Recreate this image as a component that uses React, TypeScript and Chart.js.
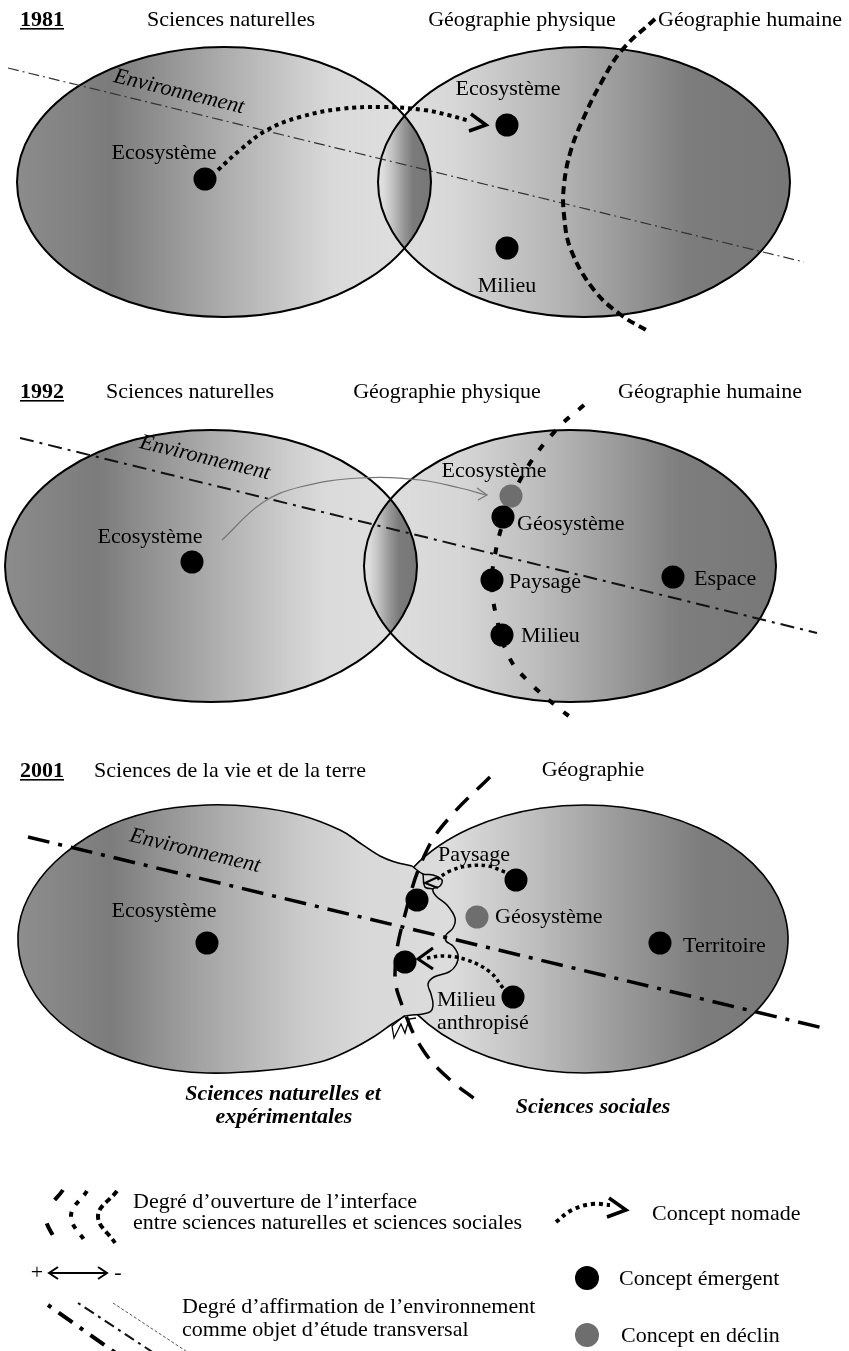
import React, { useEffect, useRef } from "react";
import { Chart, registerables } from "chart.js";

Chart.register(...registerables);

type P = [number, number];

const W = 849;
const H = 1351;
const SERIF = '"Liberation Serif", "Times New Roman", serif';

// ---------------- concepts (markers) ----------------
const EMERGING_1981: P[] = [[205, 179], [507, 125], [507, 248]];
const EMERGING_1992: P[] = [[192, 562], [503, 517], [492, 580], [502, 635], [673, 577]];
const DECLINING_1992: P[] = [[511, 496]];
const EMERGING_2001: P[] = [[207, 943], [516, 880], [513, 997], [660, 943], [417, 900], [405, 962]];
const DECLINING_2001: P[] = [[477, 917]];
const LEGEND_EMERGING: P[] = [[587, 1278]];
const LEGEND_DECLINING: P[] = [[587, 1335]];

// ---------------- environment axes (dash-dot) ----------------
const ENV_1981: P[] = [[8, 68], [804, 262]];
const ENV_1992: P[] = [[20, 438], [817, 633]];
const ENV_2001: P[] = [[28, 837], [823, 1028]];

// ---------------- interface boundaries (dashed) ----------------
const BOUND_1981: P[] = [[655, 19], [622, 50], [601, 83], [584, 117], [571, 150], [564, 185], [564, 215], [571, 250], [594, 290], [621, 315], [648, 331]];
const BOUND_1992: P[] = [[584, 405], [556, 430], [524, 473], [504, 520], [494, 560], [492, 585], [496, 615], [509, 657], [530, 683], [561, 710], [573, 719]];
const BOUND_2001: P[] = [[490, 777], [450, 817], [427, 850], [407, 907], [395, 973], [405, 1013], [423, 1050], [447, 1077], [480, 1103]];

// ---------------- nomad concept arrows ----------------
const NOMAD_1981: P[] = [[218, 170], [240, 150], [267, 130], [300, 117], [340, 109], [383, 107], [424, 110], [448, 115], [470, 121]];
const NOMAD_1981_HEAD: P[] = [[471, 114], [486, 125], [469, 131]];
const NOMAD_1992: P[] = [[222, 540], [262, 503], [300, 487], [360, 478], [420, 480], [460, 488], [486, 495]];
const NOMAD_1992_HEAD: P[] = [[477, 488], [487, 495], [478, 500]];
const NOMAD_2001_A: P[] = [[505, 872], [488, 866], [468, 866], [450, 871], [437, 879]];
const NOMAD_2001_A_HEAD: P[] = [[438, 877], [425, 883], [438, 888]];
const NOMAD_2001_B: P[] = [[503, 988], [490, 972], [467, 960], [445, 956], [426, 958]];
const NOMAD_2001_B_HEAD: P[] = [[433, 948], [418, 959], [433, 969]];

// ---------------- 2001 wavy interface ----------------
const INTERFACE_2001: P[] = [[412, 866], [423, 874], [433, 875], [442, 880], [440, 886], [433, 889], [436, 896], [447, 905], [455, 918], [453, 928], [446, 935], [446, 941], [453, 946], [458, 955], [456, 965], [449, 972], [434, 977], [428, 984], [431, 994], [433, 1004], [431, 1011], [423, 1014], [412, 1015]];
const INTERFACE_2001_LOOP: P[] = [[433, 889], [425, 887], [423, 874]];
const INTERFACE_2001_SPIKES: P[] = [[412, 1015], [404, 1016], [392, 1026], [394, 1038], [401, 1024], [405, 1033], [409, 1019], [416, 1018]];

// ---------------- 2001 merged shape outline ----------------
const LOBE_2001: P[] = [[412, 866], [395, 862], [380, 856], [360, 843], [340, 830], [300, 815], [255, 807], [207, 805], [150, 812], [100, 830], [55, 862], [28, 898], [18, 935], [25, 975], [50, 1013], [95, 1046], [150, 1066], [207, 1073], [270, 1070], [320, 1062], [350, 1050], [375, 1036], [392, 1024], [405, 1016]];
const RIGHT_2001 = { cx: 585, cy: 939, rx: 203, ry: 134 };
const NECK_2001: P[] = [[413, 867], [412, 1017]];

// ---------------- ellipses 1981 / 1992 ----------------
const LEFT_1981 = { cx: 224, cy: 182, rx: 207, ry: 135 };
const RIGHT_1981 = { cx: 584, cy: 182, rx: 206, ry: 135 };
const LEFT_1992 = { cx: 211, cy: 566, rx: 206, ry: 136 };
const RIGHT_1992 = { cx: 570, cy: 566, rx: 206, ry: 136 };

// shading ramps: [x, grey level]
const SHADE_LEFT_1981: P[] = [[17, 140], [110, 123], [200, 162], [300, 205], [335, 218], [431, 224]];
const SHADE_RIGHT_1981: P[] = [[378, 224], [450, 216], [560, 180], [690, 124], [790, 119]];
const SHADE_LENS_1981: P[] = [[378, 226], [383, 221], [393, 192], [403, 153], [413, 123], [431, 119]];
const SHADE_LEFT_1992: P[] = [[5, 140], [98, 123], [188, 162], [288, 205], [323, 218], [417, 224]];
const SHADE_RIGHT_1992: P[] = [[364, 224], [460, 214], [530, 192], [600, 162], [680, 126], [776, 119]];
const SHADE_LENS_1992: P[] = [[364, 226], [369, 221], [379, 192], [389, 153], [399, 123], [417, 119]];
const SHADE_2001: P[] = [[18, 142], [110, 124], [200, 163], [300, 202], [360, 216], [450, 220], [530, 192], [620, 154], [700, 125], [790, 119]];

// ---------------- legend glyphs ----------------
const LEG_ARC_1: P[] = [[63, 1190], [46, 1215], [56, 1242]];
const LEG_ARC_2: P[] = [[87, 1191], [71, 1216], [86, 1243]];
const LEG_ARC_3: P[] = [[117, 1191], [98, 1216], [115, 1243]];
const LEG_DOUBLE: P[] = [[50, 1273], [106, 1273]];
const LEG_DOUBLE_L: P[] = [[58, 1267], [49, 1273], [58, 1279]];
const LEG_DOUBLE_R: P[] = [[98, 1267], [107, 1273], [98, 1279]];
const LEG_ENV_1: P[] = [[48, 1305], [127, 1361]];
const LEG_ENV_2: P[] = [[78, 1303], [163, 1359]];
const LEG_ENV_3: P[] = [[113, 1303], [198, 1359]];
const LEG_NOMAD: P[] = [[556, 1222], [572, 1210], [592, 1204], [610, 1205]];
const LEG_NOMAD_HEAD: P[] = [[609, 1198], [626, 1210], [607, 1217]];

// ---------------- texts ----------------
const YEARS = ["1981", "1992", "2001"];
const YEAR_BASELINES = [26, 398, 777];
const TITLE_TEXTS = ["Sciences naturelles", "Géographie physique", "Géographie humaine", "Sciences naturelles", "Géographie physique", "Géographie humaine", "Sciences de la vie et de la terre", "Géographie"];
const TITLE_X = [231, 522, 750, 190, 447, 710, 230, 593];
const TITLE_Y = [26, 26, 26, 398, 398, 398, 777, 776];

const CONCEPT_TEXTS = ["Ecosystème", "Ecosystème", "Milieu", "Ecosystème", "Ecosystème", "Géosystème", "Paysage", "Milieu", "Espace", "Ecosystème", "Paysage", "Géosystème", "Territoire", "Milieu", "anthropisé"];
const CONCEPT_X = [164, 508, 507, 150, 494, 517, 509, 521, 694, 164, 474, 495, 683, 437, 437];
const CONCEPT_Y = [159, 95, 292, 543, 477, 530, 588, 642, 585, 917, 861, 923, 952, 1006, 1029];
const CONCEPT_ALIGN = ["center", "center", "center", "center", "center", "left", "left", "left", "left", "center", "center", "left", "left", "left", "left"];

const FIELD_TEXTS = ["Sciences naturelles et", "expérimentales", "Sciences sociales"];
const FIELD_X = [283, 284, 593];
const FIELD_Y = [1100, 1123, 1113];

const ENV_LABEL = "Environnement";
const ENV_LABEL_CENTERS: P[] = [[179, 92], [205, 458], [195, 851]];

const LEGEND_TEXTS = ["Degré d’ouverture de l’interface", "entre sciences naturelles et sciences sociales", "Degré d’affirmation de l’environnement", "comme objet d’étude transversal", "Concept nomade", "Concept émergent", "Concept en déclin"];
const LEGEND_X = [133, 133, 182, 182, 652, 619, 621];
const LEGEND_Y = [1208, 1229, 1313, 1336, 1220, 1285, 1342];
const SIGN_TEXTS = ["+", "-"];
const SIGN_X = [37, 118];
const SIGN_Y = 1273;

// ---------------- helpers ----------------
const toXY = (pts: P[]) => pts.map(([x, y]) => ({ x, y }));

const stroke = (pts: P[], color: string, width: number, dash: number[] = [], tension = 0, order = 5) => ({
  data: toXY(pts),
  showLine: true,
  borderColor: color,
  backgroundColor: color,
  borderWidth: width,
  borderDash: dash,
  tension,
  pointRadius: 0,
  pointHoverRadius: 0,
  fill: false,
  order,
  borderCapStyle: "butt",
  borderJoinStyle: "miter",
});

const markers = (pts: P[], color: string, r: number, order: number) => ({
  data: toXY(pts),
  showLine: false,
  pointRadius: r,
  pointHoverRadius: r,
  pointBackgroundColor: color,
  pointBorderColor: color,
  pointBorderWidth: 0,
  order,
});

function smoothTo(ctx: CanvasRenderingContext2D, pts: P[], move: boolean) {
  if (move) ctx.moveTo(pts[0][0], pts[0][1]);
  else ctx.lineTo(pts[0][0], pts[0][1]);
  for (let i = 0; i < pts.length - 1; i++) {
    const p0 = pts[i - 1] || pts[i];
    const p1 = pts[i];
    const p2 = pts[i + 1];
    const p3 = pts[i + 2] || pts[i + 1];
    ctx.bezierCurveTo(
      p1[0] + (p2[0] - p0[0]) / 6,
      p1[1] + (p2[1] - p0[1]) / 6,
      p2[0] - (p3[0] - p1[0]) / 6,
      p2[1] - (p3[1] - p1[1]) / 6,
      p2[0],
      p2[1]
    );
  }
}

const diagramPlugin = {
  id: "diagram",
  beforeDraw(chart: any) {
    const ctx = chart.ctx;
    ctx.save();
    ctx.fillStyle = "#ffffff";
    ctx.fillRect(0, 0, chart.width, chart.height);
    ctx.restore();
  },
  beforeDatasetsDraw(chart: any) {
    const ctx: CanvasRenderingContext2D = chart.ctx;
    const xs = chart.scales.x;
    const ys = chart.scales.y;
    const X = (v: number) => xs.getPixelForValue(v);
    const Y = (v: number) => ys.getPixelForValue(v);
    const px = (pts: P[]): P[] => pts.map(([a, b]) => [X(a), Y(b)]);

    const grad = (ramp: P[]) => {
      const x0 = ramp[0][0];
      const x1 = ramp[ramp.length - 1][0];
      const g = ctx.createLinearGradient(X(x0), 0, X(x1), 0);
      ramp.forEach(([x, v]) => g.addColorStop((x - x0) / (x1 - x0), `rgb(${v},${v},${v})`));
      return g;
    };
    const ell = (e: { cx: number; cy: number; rx: number; ry: number }) => {
      ctx.beginPath();
      ctx.ellipse(X(e.cx), Y(e.cy), Math.abs(X(e.cx + e.rx) - X(e.cx)), Math.abs(Y(e.cy + e.ry) - Y(e.cy)), 0, 0, Math.PI * 2);
    };

    const panel = (L: any, R: any, sl: P[], sr: P[], slens: P[]) => {
      ctx.save();
      ell(L);
      ctx.fillStyle = grad(sl);
      ctx.fill();
      ell(R);
      ctx.fillStyle = grad(sr);
      ctx.fill();
      ctx.save();
      ell(L);
      ctx.clip();
      ell(R);
      ctx.fillStyle = grad(slens);
      ctx.fill();
      ctx.restore();
      ctx.lineWidth = 2;
      ctx.strokeStyle = "#000";
      ell(L);
      ctx.stroke();
      ell(R);
      ctx.stroke();
      ctx.restore();
    };

    panel(LEFT_1981, RIGHT_1981, SHADE_LEFT_1981, SHADE_RIGHT_1981, SHADE_LENS_1981);
    panel(LEFT_1992, RIGHT_1992, SHADE_LEFT_1992, SHADE_RIGHT_1992, SHADE_LENS_1992);

    // 2001 merged shape
    const e = RIGHT_2001;
    const ecx = X(e.cx), ecy = Y(e.cy);
    const erx = Math.abs(X(e.cx + e.rx) - ecx), ery = Math.abs(Y(e.cy + e.ry) - ecy);
    const [nt, nb] = px(NECK_2001);
    const aTop = Math.atan2((nt[1] - ecy) / ery, (nt[0] - ecx) / erx);
    const aBot = Math.atan2((nb[1] - ecy) / ery, (nb[0] - ecx) / erx);
    const lobe = px(LOBE_2001);
    ctx.save();
    ctx.beginPath();
    smoothTo(ctx, lobe, true);
    ctx.ellipse(ecx, ecy, erx, ery, 0, aBot, aTop, true);
    ctx.closePath();
    ctx.fillStyle = grad(SHADE_2001);
    ctx.fill();
    ctx.lineWidth = 1.6;
    ctx.strokeStyle = "#000";
    ctx.beginPath();
    smoothTo(ctx, lobe, true);
    ctx.stroke();
    ctx.beginPath();
    ctx.ellipse(ecx, ecy, erx, ery, 0, aBot, aTop, true);
    ctx.stroke();
    ctx.restore();
  },
  afterDatasetsDraw(chart: any) {
    const ctx: CanvasRenderingContext2D = chart.ctx;
    const xs = chart.scales.x;
    const ys = chart.scales.y;
    const X = (v: number) => xs.getPixelForValue(v);
    const Y = (v: number) => ys.getPixelForValue(v);
    const txt = (s: string, x: number, y: number, align: string, font: string, base = "alphabetic") => {
      ctx.font = font;
      ctx.textAlign = align as CanvasTextAlign;
      ctx.textBaseline = base as CanvasTextBaseline;
      ctx.fillText(s, X(x), Y(y));
    };
    ctx.save();
    ctx.fillStyle = "#000";
    const reg = `22px ${SERIF}`;

    YEARS.forEach((s, i) => {
      txt(s, 20, YEAR_BASELINES[i], "left", `bold 22px ${SERIF}`);
      const w = ctx.measureText(s).width;
      ctx.fillRect(X(20), Y(YEAR_BASELINES[i] + 2), w, 1.6);
    });
    TITLE_TEXTS.forEach((s, i) => txt(s, TITLE_X[i], TITLE_Y[i], "center", reg));
    CONCEPT_TEXTS.forEach((s, i) => txt(s, CONCEPT_X[i], CONCEPT_Y[i], CONCEPT_ALIGN[i], reg));
    FIELD_TEXTS.forEach((s, i) => txt(s, FIELD_X[i], FIELD_Y[i], "center", `italic bold 22px ${SERIF}`));
    LEGEND_TEXTS.forEach((s, i) => txt(s, LEGEND_X[i], LEGEND_Y[i], "left", reg));
    SIGN_TEXTS.forEach((s, i) => txt(s, SIGN_X[i], SIGN_Y, "center", reg, "middle"));

    const envLines = [ENV_1981, ENV_1992, ENV_2001];
    ENV_LABEL_CENTERS.forEach(([cx, cy], i) => {
      const l = envLines[i];
      const ang = Math.atan2(Y(l[1][1]) - Y(l[0][1]), X(l[1][0]) - X(l[0][0]));
      ctx.save();
      ctx.translate(X(cx), Y(cy));
      ctx.rotate(ang);
      ctx.font = `italic 22px ${SERIF}`;
      ctx.textAlign = "center";
      ctx.textBaseline = "middle";
      ctx.fillText(ENV_LABEL, 0, 0);
      ctx.restore();
    });
    ctx.restore();
  },
};

export default function App() {
  const ref = useRef<HTMLCanvasElement | null>(null);

  useEffect(() => {
    if (!ref.current) return;
    const datasets: any[] = [
      markers(EMERGING_1981, "#000", 11.5, 0),
      markers(EMERGING_1992, "#000", 11.5, 0),
      markers(EMERGING_2001, "#000", 11.5, 0),
      markers(LEGEND_EMERGING, "#000", 12, 0),
      markers(DECLINING_1992, "#6e6e6e", 11.5, 1),
      markers(DECLINING_2001, "#6e6e6e", 11.5, 1),
      markers(LEGEND_DECLINING, "#6e6e6e", 12, 1),

      stroke(ENV_1981, "#333", 1.2, [11, 4, 2, 4], 0, 6),
      stroke(ENV_1992, "#111", 2, [14, 6, 3, 6], 0, 6),
      stroke(ENV_2001, "#000", 3.5, [22, 9, 4, 9], 0, 6),

      stroke(BOUND_1981, "#000", 4, [8, 5], 0.4, 5),
      stroke(BOUND_1992, "#000", 4, [7, 12], 0.4, 5),
      stroke(BOUND_2001, "#000", 3.5, [18, 12], 0.4, 5),

      stroke(NOMAD_1981, "#000", 4, [4, 4], 0.4, 3),
      stroke(NOMAD_1981_HEAD, "#000", 3.5, [], 0, 3),
      stroke(NOMAD_1992, "#777", 1.2, [], 0.4, 3),
      stroke(NOMAD_1992_HEAD, "#777", 1.3, [], 0, 3),
      stroke(NOMAD_2001_A, "#000", 3.5, [3.5, 3.5], 0.4, 3),
      stroke(NOMAD_2001_A_HEAD, "#000", 2, [], 0, 3),
      stroke(NOMAD_2001_B, "#000", 3.5, [3.5, 3.5], 0.4, 3),
      stroke(NOMAD_2001_B_HEAD, "#000", 3, [], 0, 3),

      stroke(INTERFACE_2001, "#000", 1.5, [], 0.35, 4),
      stroke(INTERFACE_2001_LOOP, "#000", 1.5, [], 0.35, 4),
      stroke(INTERFACE_2001_SPIKES, "#000", 1.3, [], 0, 4),

      stroke(LEG_ARC_1, "#000", 4, [13, 26], 0.4, 5),
      stroke(LEG_ARC_2, "#000", 4, [5, 8], 0.4, 5),
      stroke(LEG_ARC_3, "#000", 4, [6, 4], 0.4, 5),
      stroke(LEG_DOUBLE, "#000", 2, [], 0, 5),
      stroke(LEG_DOUBLE_L, "#000", 2, [], 0, 5),
      stroke(LEG_DOUBLE_R, "#000", 2, [], 0, 5),
      stroke(LEG_ENV_1, "#000", 4, [4, 9, 17, 9], 0, 6),
      stroke(LEG_ENV_2, "#111", 2, [3, 5, 11, 5], 0, 6),
      stroke(LEG_ENV_3, "#555", 1, [3, 2], 0, 6),
      stroke(LEG_NOMAD, "#000", 4, [4, 4], 0.4, 3),
      stroke(LEG_NOMAD_HEAD, "#000", 3.5, [], 0, 3),
    ];

    const chart = new Chart(ref.current, {
      type: "scatter",
      data: { datasets },
      options: {
        responsive: false,
        devicePixelRatio: 1,
        animation: false,
        events: [],
        layout: { padding: 0, autoPadding: false },
        plugins: { legend: { display: false }, tooltip: { enabled: false } },
        scales: {
          x: { type: "linear", min: 0, max: W, display: false },
          y: { type: "linear", min: 0, max: H, reverse: true, display: false },
        },
      },
      plugins: [diagramPlugin],
    } as any);
    return () => chart.destroy();
  }, []);

  return (
    <div style={{ position: "absolute", left: 0, top: 0, width: W, height: H }}>
      <canvas ref={ref} width={W} height={H} style={{ display: "block" }} />
    </div>
  );
}
